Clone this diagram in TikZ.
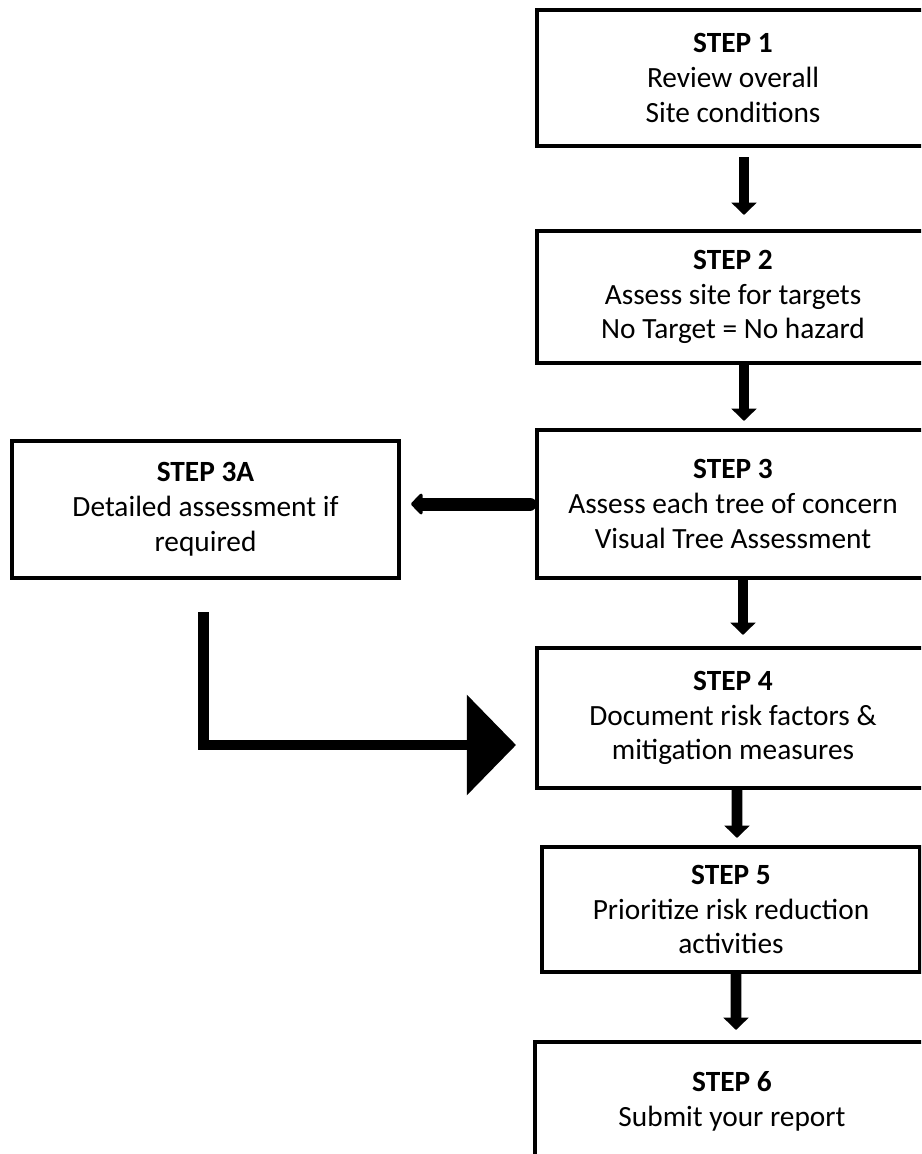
\documentclass[tikz,border=0pt]{standalone}
\usepackage{fontspec}
\setmainfont{Carlito}
\usepackage{tikz}
\usetikzlibrary{arrows.meta}
\tikzstyle{stepbox} = [draw, line width=2.3pt, align=center, inner sep=0pt, font=\fontsize{16.7}{19.8}\selectfont]
\tikzstyle{flowarrow} = [line width=6pt, -{Triangle[width=14pt,length=7pt]}]
\tikzstyle{backarrow} = [line width=7.4pt, line cap=round, -{Triangle[round,width=14pt,length=7pt]}]
\tikzstyle{bendarrow} = [line width=5.7pt, -{Triangle[width=56pt,length=28pt]}]

\begin{document}
\begin{tikzpicture}[x=0.02cm, y=-0.02cm]

        \clip (0,0) rectangle (921,1154);

        % Step 1: review of the site
        \node[stepbox, minimum width=7.84cm, minimum height=2.72cm] (s1) at (733,78)
            {\textbf{STEP 1}\\Review overall\\Site conditions};

        % Step 2: targets
        \node[stepbox, minimum width=7.84cm, minimum height=2.64cm] (s2) at (733,297)
            {\textbf{STEP 2}\\Assess site for targets\\No Target = No hazard};

        % Step 3: each tree
        \node[stepbox, minimum width=7.84cm, minimum height=2.96cm] (s3) at (733,504)
            {\textbf{STEP 3}\\Assess each tree of concern\\Visual Tree Assessment};

        % Step 3A: side branch
        \node[stepbox, minimum width=7.74cm, minimum height=2.74cm] (s3a) at (205.5,509.5)
            {\textbf{STEP 3A}\\Detailed assessment if\\required};

        % Step 4: risk factors
        \node[stepbox, minimum width=7.84cm, minimum height=2.8cm] (s4) at (733,718)
            {\textbf{STEP 4}\\Document risk factors \&\\mitigation measures};

        % Step 5: priorities
        \node[stepbox, minimum width=7.56cm, minimum height=2.5cm] (s5) at (731,909.5)
            {\textbf{STEP 5}\\Prioritize risk reduction\\activities};

        % Step 6: report (runs off the page)
        \node[stepbox, minimum width=7.88cm, minimum height=2.36cm] (s6) at (732,1101)
            {\textbf{STEP 6}\\Submit your report};

        % Downward arrows along the main column
        \draw[flowarrow] ([xshift=0.22cm,yshift=-0.18cm]s1.south) -- ([xshift=0.22cm,yshift=0.28cm]s2.north);  % 1 -> 2
        \draw[flowarrow] ([xshift=0.22cm]s2.south) -- ([xshift=0.22cm,yshift=0.14cm]s3.north);                 % 2 -> 3
        \draw[flowarrow] ([xshift=0.2cm]s3.south) -- ([xshift=0.2cm,yshift=0.22cm]s4.north);                   % 3 -> 4
        \draw[flowarrow] ([xshift=0.08cm]s4.south) -- ([xshift=0.12cm,yshift=0.14cm]s5.north);                 % 4 -> 5
        \draw[flowarrow] ([xshift=0.1cm]s5.south) -- ([xshift=0.08cm,yshift=0.2cm]s6.north);                   % 5 -> 6

        % Side arrow to step 3A
        \draw[backarrow] ([xshift=-0.1cm]s3.west) -- ([xshift=0.2cm]s3a.east |- s3.west);                     % 3 -> 3A

        % Bent arrow back into step 4
        \draw[bendarrow] ([xshift=-0.04cm,yshift=-0.64cm]s3a.south) |- ([xshift=-0.38cm,yshift=-0.54cm]s4.west); % 3A -> 4

\end{tikzpicture}
\end{document}
